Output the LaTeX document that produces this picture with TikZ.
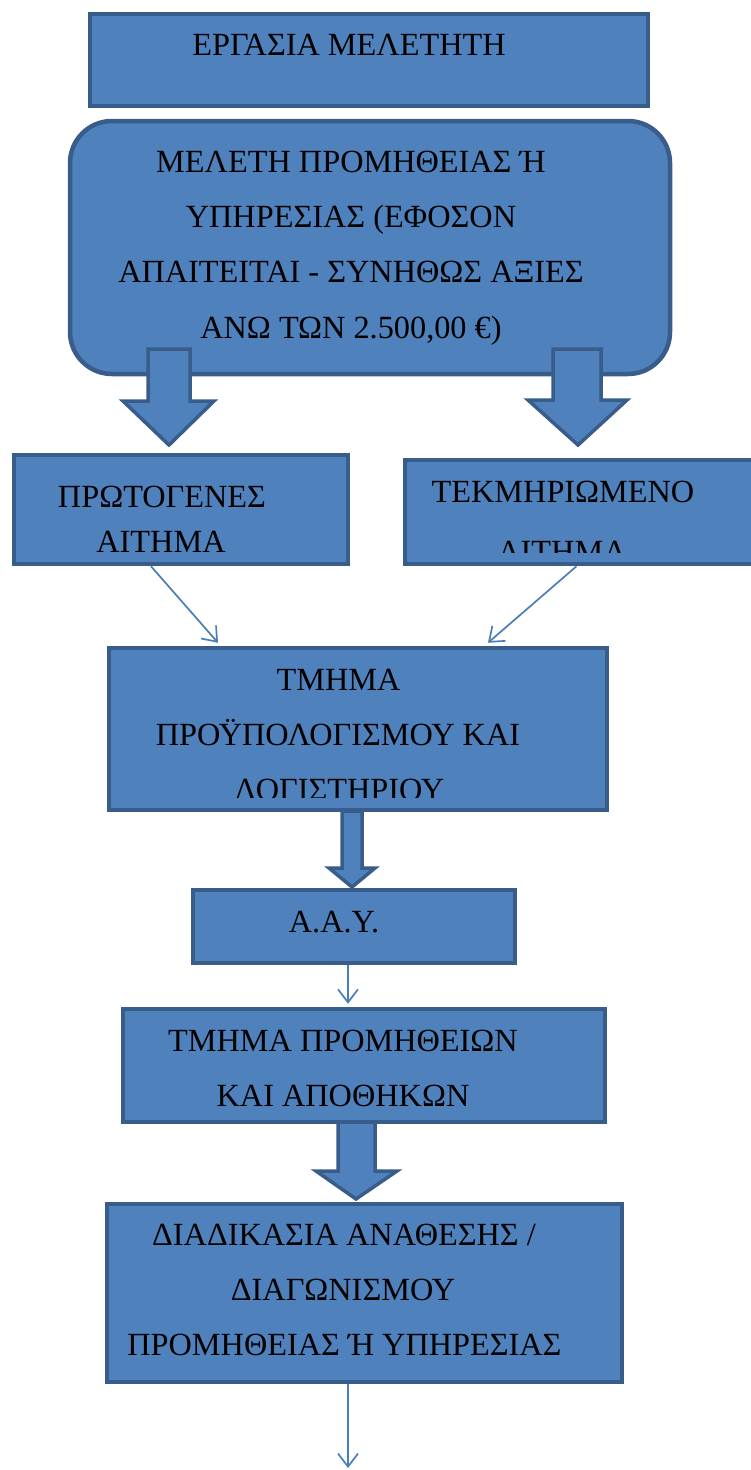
\documentclass[tikz,border=0pt]{standalone}
\usepackage{fontspec}
\setmainfont{Liberation Serif}
\usetikzlibrary{arrows.meta,calc}
\definecolor{boxfill}{HTML}{4F81BD}
\definecolor{boxline}{HTML}{385D8A}
\definecolor{thinline}{HTML}{4A7EBB}
\begin{document}
\begin{tikzpicture}[x=1pt,y=-1pt,
  box/.style={draw=boxline, fill=boxfill, line width=4.5pt, inner sep=0pt},
  blockarrow/.style={draw=boxline, fill=boxfill, line width=3.5pt, line join=miter},
  lbl/.style={anchor=base, inner sep=0pt, font=\fontsize{32.3}{32.3}\selectfont},
  thinarrow/.style={draw=thinline, line width=1.7pt, -{Straight Barb[length=13pt,width=20pt]}}]
\useasboundingbox[fill=white] (0,0) rectangle (750,1470);

% boxes
\node[box, minimum width=558pt, minimum height=92pt] (erg) at (369,60) {};
\node[box, rounded corners=42pt, minimum width=600pt, minimum height=253pt] (mel) at (370,247.5) {};
\node[box, minimum width=334pt, minimum height=109pt] (prot) at (181,509.5) {};
\node[box, minimum width=357pt, minimum height=104pt] (tekm) at (583.5,512) {};
\node[box, minimum width=498pt, minimum height=162pt] (tmp) at (358,729) {};
\node[box, minimum width=322pt, minimum height=73pt] (aay) at (354,926.5) {};
\node[box, minimum width=482pt, minimum height=113pt] (prom) at (364,1065.5) {};
\node[box, minimum width=515pt, minimum height=178pt] (diad) at (364.5,1293) {};

% block arrows
\draw[blockarrow] (148,349) -- (190,349) -- (190,401) -- (214,401) -- (169,445) -- (123,401) -- (148,401) -- cycle;
\draw[blockarrow] (553,349) -- (601,349) -- (601,400) -- (627,400) -- (578,445) -- (528,400) -- (553,400) -- cycle;
\draw[blockarrow] (342,811) -- (362,811) -- (362,868) -- (375,868) -- (352,887) -- (329,868) -- (342,868) -- cycle;
\draw[blockarrow] (338,1122) -- (375,1122) -- (375,1171) -- (397,1171) -- (356,1199) -- (316,1171) -- (338,1171) -- cycle;

% thin arrows
\draw[thinarrow] ([xshift=-30pt]prot.south) -- ([xshift=-140pt,yshift=3pt]tmp.north);
\draw[thinarrow] ([xshift=-7pt]tekm.south) -- ([xshift=130pt,yshift=3pt]tmp.north);
\draw[thinarrow] ([xshift=-6pt]aay.south) -- ([xshift=-16pt,yshift=3pt]prom.north);
\coordinate (endpt) at (348,1468);
\draw[thinarrow] ([xshift=-16.5pt]diad.south) -- (endpt);

% texts
\node[lbl] (t1) at (349,55) {ΕΡΓΑΣΙΑ ΜΕΛΕΤΗΤΗ};
\node[lbl] (t2a) at (351,172) {ΜΕΛΕΤΗ ΠΡΟΜΗΘΕΙΑΣ Ή};
\node[lbl] (t2b) at (351,227) {ΥΠΗΡΕΣΙΑΣ (ΕΦΟΣΟΝ};
\node[lbl] (t2c) at (351,282) {ΑΠΑΙΤΕΙΤΑΙ - ΣΥΝΗΘΩΣ ΑΞΙΕΣ};
\node[lbl] (t2d) at (351,338) {ΑΝΩ ΤΩΝ 2.500,00 €)};
\node[lbl] (t3a) at (162,507) {ΠΡΩΤΟΓΕΝΕΣ};
\node[lbl] (t3b) at (161,552) {ΑΙΤΗΜΑ};
\node[lbl] (t4a) at (563,502) {ΤΕΚΜΗΡΙΩΜΕΝΟ};
\begin{scope}
  \clip (405,520) rectangle (760,552);
  \node[lbl] (t4b) at (562,562) {ΑΙΤΗΜΑ};
\end{scope}
\node[lbl] (t5a) at (338.5,690) {ΤΜΗΜΑ};
\node[lbl] (t5b) at (338,745) {ΠΡΟΫΠΟΛΟΓΙΣΜΟΥ ΚΑΙ};
\begin{scope}
  \clip (110,760) rectangle (605,797);
  \node[lbl] (t5c) at (339,800) {ΛΟΓΙΣΤΗΡΙΟΥ};
\end{scope}
\node[lbl] (t6) at (334,932) {Α.Α.Υ.};
\node[lbl] (t7a) at (343,1051) {ΤΜΗΜΑ ΠΡΟΜΗΘΕΙΩΝ};
\node[lbl] (t7b) at (343,1106) {ΚΑΙ ΑΠΟΘΗΚΩΝ};
\node[lbl] (t8a) at (344,1245) {ΔΙΑΔΙΚΑΣΙΑ ΑΝΑΘΕΣΗΣ /};
\node[lbl] (t8b) at (343,1300) {ΔΙΑΓΩΝΙΣΜΟΥ};
\node[lbl] (t8c) at (344.5,1355) {ΠΡΟΜΗΘΕΙΑΣ Ή ΥΠΗΡΕΣΙΑΣ};
\end{tikzpicture}
\end{document}
